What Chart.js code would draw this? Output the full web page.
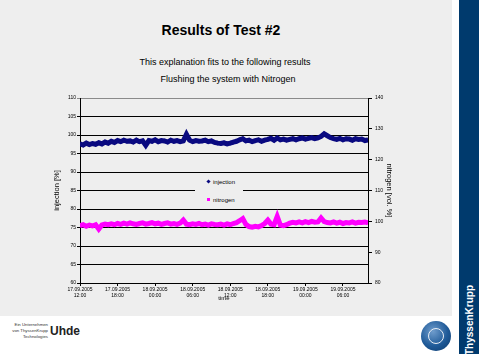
<!DOCTYPE html>
<html>
<head>
<meta charset="utf-8">
<script src="https://cdn.jsdelivr.net/npm/chart.js@4.4.1/dist/chart.umd.min.js"></script>
<style>
  html, body { margin: 0; padding: 0; background: #fff; width: 479px; height: 354px; overflow: hidden; }
  body { position: relative; font-family: 'Liberation Sans', Arial, sans-serif; color: #000; }
  .slide { position: absolute; left: 0; top: 0; width: 452px; height: 316px; background: #eeeeee; }
  .band { position: absolute; left: 459px; top: 0; width: 20px; height: 354px; background: #003a6d; }
  .band span { position: absolute; left: 50%; top: 320px; transform: translate(-50%, -50%) rotate(-90deg);
    color: #fff; font-weight: bold; font-size: 10px; white-space: nowrap; }
  .txt { position: absolute; white-space: nowrap; transform: translate(-50%, -50%); }
  #chartWrap { position: absolute; left: 0; top: 0; width: 452px; height: 316px; }
  .legend { position: absolute; left: 195px; top: 173px; width: 48px; height: 36px; background: #eeeeee; font-size: 6px; }
  .legend div { position: absolute; left: 12px; white-space: nowrap; }
  .legend i { display: inline-block; width: 3px; height: 3px; margin-right: 3px; vertical-align: 1px; }
  .uhde-small { position: absolute; left: 2px; top: 322px; width: 46px; text-align: right; font-size: 4.3px; line-height: 6px; color: #333; }
  .uhde { position: absolute; left: 50px; top: 324px; font-size: 12px; font-weight: bold; color: #222; }
  .emblem { position: absolute; left: 421px; top: 321px; width: 30px; height: 30px; border-radius: 50%;
    background: radial-gradient(circle at 40% 35%, #6f9ccc 0%, #1f5a98 55%, #0b3768 100%); }
  .emblem::after { content: ''; position: absolute; left: 7px; top: 7px; width: 14px; height: 14px;
    border: 1.5px solid #e8eef5; border-radius: 50%; }
</style>
</head>
<body>
<div class="slide"></div>
<div class="band"><span>ThyssenKrupp</span></div>

<div class="txt" style="left:221px; top:30px; font-size:14px; font-weight:bold;">Results of Test #2</div>
<div class="txt" style="left:225px; top:62px; font-size:9px;">This explanation fits to the following results</div>
<div class="txt" style="left:228px; top:79px; font-size:9px;">Flushing the system with Nitrogen</div>

<div id="chartWrap"><canvas id="chart" width="452" height="316"></canvas></div>

<div class="legend">
  <div style="top:6px;"><i style="background:#0a0a80; transform: rotate(45deg);"></i>injection</div>
  <div style="top:24px;"><i style="background:#ff00ff;"></i>nitrogen</div>
</div>

<div class="uhde-small">Ein Unternehmen<br>von ThyssenKrupp<br>Technologies</div>
<div class="uhde">Uhde</div>
<div class="emblem"></div>

<script>
  // samples every 30 min, starting 17.09.2005 12:00
  const injection = [
    97.6, 97.3, 97.8, 97.4, 97.7, 97.5, 97.9, 97.6, 98.1, 97.8,
    98.3, 98.0, 98.5, 98.2, 98.6, 98.3, 98.4, 98.1, 98.6, 98.2,
    98.4, 97.2, 98.5, 98.3, 98.7, 98.2, 98.5, 98.4, 98.1, 98.6,
    98.3, 98.5, 98.2, 98.4, 100.2, 98.6, 98.2, 98.5, 98.3, 98.4,
    98.6, 98.2, 98.4, 98.0, 97.8, 97.7, 97.9, 97.6, 97.8, 98.1,
    98.3, 98.7, 99.0, 98.4, 98.6, 98.2, 98.5, 98.7, 98.3, 98.6,
    98.8, 99.1, 98.6, 99.2, 98.7, 98.9, 98.6, 98.8, 99.0, 98.7,
    99.0, 99.2, 98.9, 99.1, 99.3, 99.0, 99.2, 99.6, 100.3, 99.8,
    99.3, 99.0, 98.8, 99.1, 98.7, 99.0, 98.9, 98.6, 99.0, 98.8,
    98.9, 98.5, 98.7
  ];

  const nitrogen = [
    98.6, 98.9, 98.4, 98.8, 98.5, 98.9, 97.5, 98.8, 99.1, 98.9,
    99.2, 98.9, 99.3, 99.0, 99.4, 99.1, 99.5, 99.2, 99.0, 99.3,
    99.5, 99.1, 99.3, 99.6, 99.2, 99.4, 99.0, 99.3, 99.5, 99.1,
    99.3, 99.0, 99.4, 100.4, 99.1, 98.9, 99.2, 99.0, 99.3, 98.9,
    99.1, 98.8, 99.2, 99.0, 98.9, 99.1, 98.8, 99.2, 98.9, 99.3,
    99.6, 100.2, 100.9, 99.0, 98.3, 98.1, 98.4, 98.2, 98.6, 99.3,
    100.4, 99.1, 98.9, 101.6, 98.8, 98.6, 98.9, 99.4, 99.7, 99.5,
    99.8, 99.5, 99.9, 99.6, 100.0, 99.7, 99.8, 101.1, 99.9, 99.6,
    99.5, 99.8, 99.4, 99.7, 99.3, 99.6, 99.5, 99.8, 99.4, 99.7,
    99.6, 99.8, 99.5
  ];

  const tickHours = [0, 6, 12, 18, 24, 30, 36, 42];
  const tickLabels = [
    ['17.09.2005', '12:00'], ['17.09.2005', '18:00'], ['18.09.2005', '00:00'], ['18.09.2005', '06:00'],
    ['18.09.2005', '12:00'], ['18.09.2005', '18:00'], ['19.09.2005', '00:00'], ['19.09.2005', '06:00']
  ];

  const toPoints = (values) => values.map((v, i) => ({ x: i * 0.5, y: v }));

  Chart.defaults.font.family = "'Liberation Sans', Arial, sans-serif";
  Chart.defaults.color = '#000';

  new Chart(document.getElementById('chart'), {
    type: 'line',
    data: {
      datasets: [
        {
          label: 'injection',
          data: toPoints(injection),
          yAxisID: 'y',
          borderColor: '#0a0a80',
          backgroundColor: '#0a0a80',
          borderWidth: 5,
          pointStyle: 'rectRot',
          pointRadius: 2.4,
          pointBorderWidth: 0,
          tension: 0,
        },
        {
          label: 'nitrogen',
          data: toPoints(nitrogen),
          yAxisID: 'y2',
          borderColor: '#ff00ff',
          backgroundColor: '#ff00ff',
          borderWidth: 5,
          pointStyle: 'rect',
          pointRadius: 2.2,
          pointBorderWidth: 0,
          tension: 0,
        },
      ],
    },
    options: {
      responsive: false,
      animation: false,
      layout: { padding: { left: 0, right: 0, top: 98, bottom: 0 } },
      plugins: { legend: { display: false }, tooltip: { enabled: false } },
      scales: {
        x: {
          type: 'linear',
          min: 0,
          max: 46,
          afterBuildTicks: (scale) => { scale.ticks = tickHours.map((v) => ({ value: v })); },
          afterFit: (scale) => { scale.height = 33; },
          border: { color: '#000', width: 1 },
          grid: { drawOnChartArea: false, color: '#000', tickLength: 3 },
          ticks: {
            font: { size: 5 },
            padding: 1,
            maxRotation: 0,
            autoSkip: false,
            callback: (value) => tickLabels[tickHours.indexOf(value)] || '',
          },
          title: { display: true, text: 'time', font: { size: 6 }, padding: { top: 0, bottom: 14 } },
        },
        y: {
          position: 'left',
          min: 60,
          max: 110,
          afterFit: (scale) => { scale.width = 80; },
          border: { color: '#000', width: 1 },
          grid: {
            color: (ctx) => (ctx.tick && ctx.tick.value === 110 ? '#8a8a8a' : '#000'),
            lineWidth: 1,
            tickLength: 3,
          },
          ticks: { stepSize: 5, font: { size: 5 }, padding: 1 },
          title: { display: true, text: 'injection [%]', font: { size: 7.5 }, padding: { top: 52, bottom: 0 } },
        },
        y2: {
          position: 'right',
          min: 80,
          max: 140,
          afterFit: (scale) => { scale.width = 84; },
          border: { color: '#000', width: 1 },
          grid: { drawOnChartArea: false, color: '#000', tickLength: 4 },
          ticks: { stepSize: 10, font: { size: 5 }, padding: 3 },
          title: { display: true, text: 'nitrogen [vol. %]', font: { size: 7.5 }, padding: { top: 58, bottom: 0 } },
        },
      },
    },
  });
</script>
</body>
</html>
